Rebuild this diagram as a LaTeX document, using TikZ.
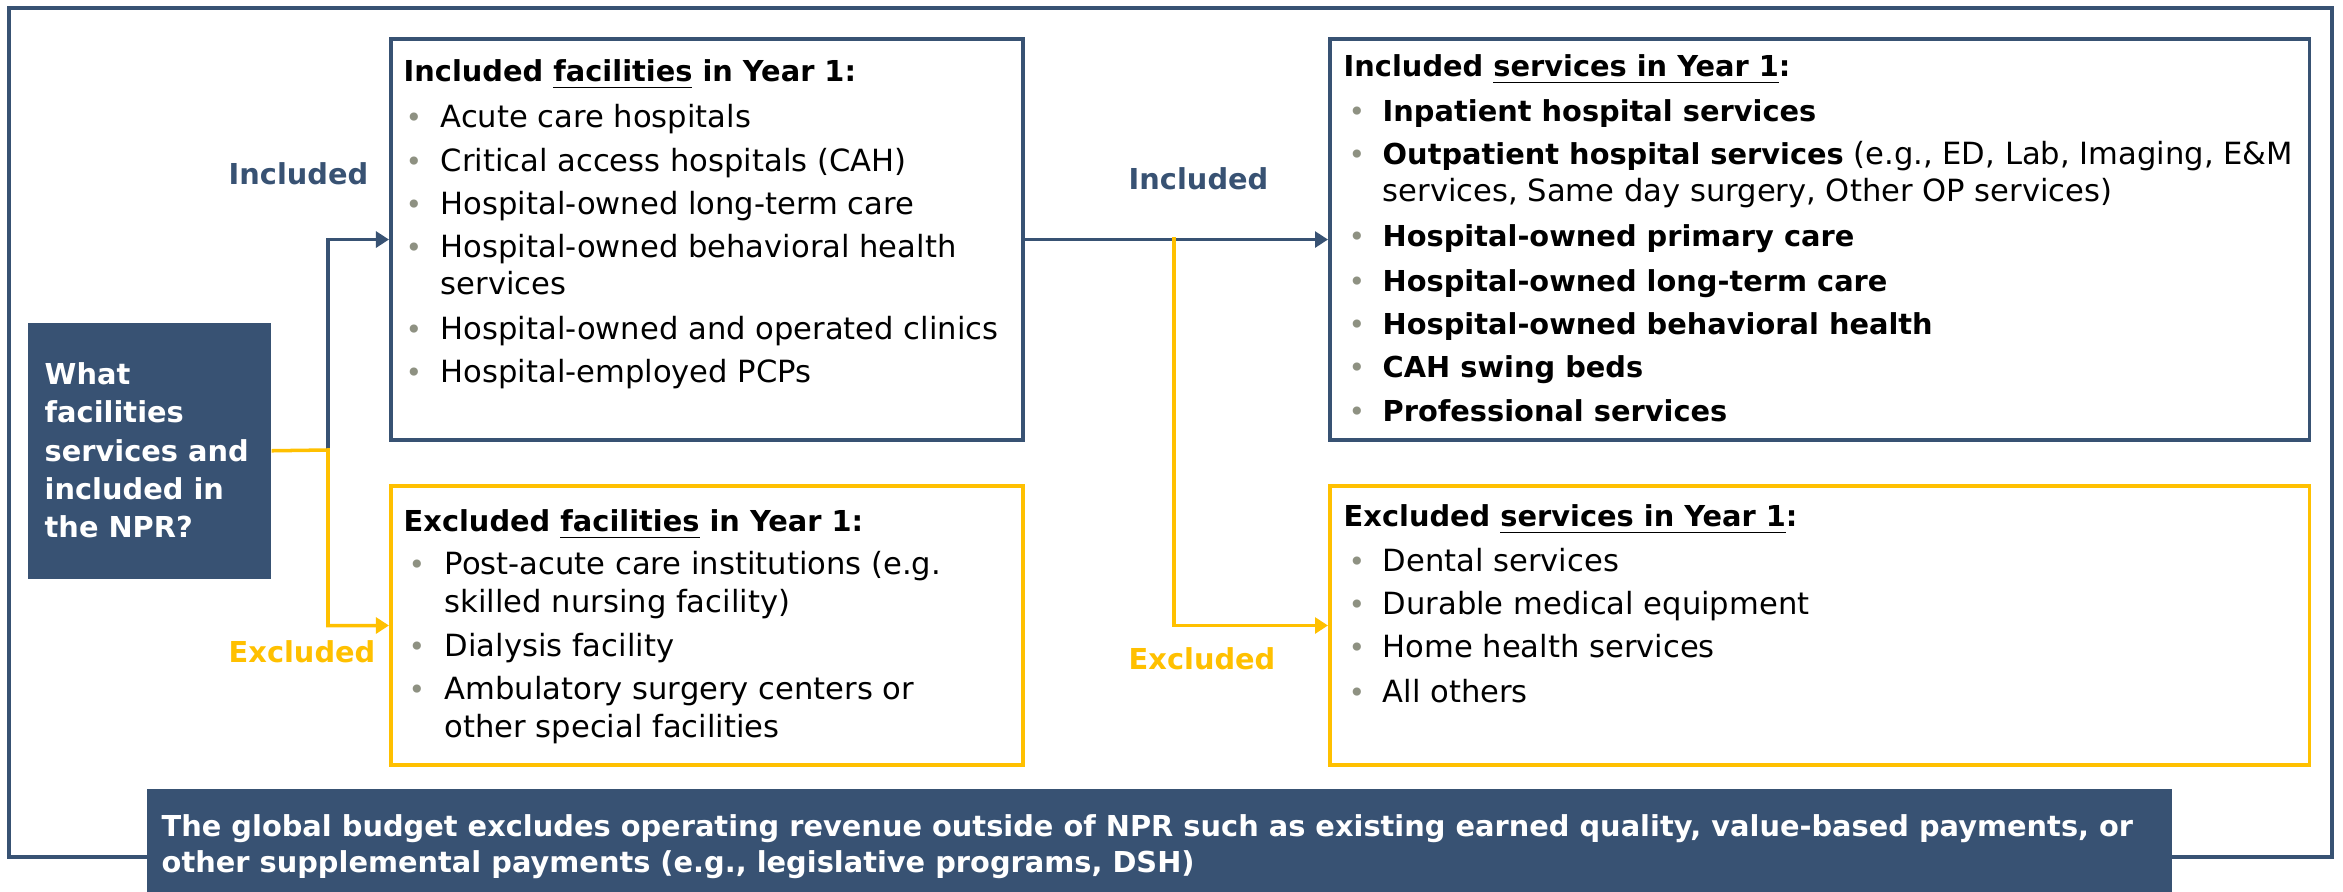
\documentclass[tikz,border=0pt]{standalone}
\usepackage{fontspec}
\setmainfont{DejaVu Sans}
\usetikzlibrary{arrows.meta}
\definecolor{hnavy}{HTML}{385273}
\definecolor{hgold}{HTML}{FFC000}
\definecolor{bulgray}{HTML}{8E9182}
\newcommand{\regfont}{\fontsize{8.7}{10.4}\selectfont}
\newcommand{\bldfont}{\fontsize{8.2}{10.4}\selectfont\bfseries}

\begin{document}
\begin{tikzpicture}[x=0.01cm,y=-0.01cm,
  itm/.style={anchor=base west,inner sep=0pt,font=\regfont},
  itb/.style={anchor=base west,inner sep=0pt,font=\bldfont},
  bul/.style={anchor=base west,inner sep=0pt,bulgray,font=\fontsize{8}{9}\selectfont},
  navybox/.style={draw=hnavy,line width=1.1pt,anchor=north west,inner sep=0pt},
  goldbox/.style={draw=hgold,line width=1.1pt,anchor=north west,inner sep=0pt},
  navyline/.style={hnavy,line width=1pt,-{Triangle[length=3.7pt,width=4.5pt]}},
  goldline/.style={hgold,line width=1pt,-{Triangle[length=3.7pt,width=4.5pt]}}]

\useasboundingbox (0,0) rectangle (2343,892);

% === outer frame ===
\draw[hnavy,line width=1pt] (9,8) rectangle (2332,857);

% === question box ===
\node[fill=hnavy,anchor=north west,minimum width=2.43cm,minimum height=2.56cm,inner sep=0pt] (q) at (27,322) {};
\node[itb,white] (q1) at (44,385) {What};
\node[itb,white] (q2) at (44,423) {facilities};
\node[itb,white] (q3) at (44,462) {services and};
\node[itb,white] (q4) at (44,500) {included in};
\node[itb,white] (q5) at (44,538) {the NPR?};

% === the four boxes ===
\node[navybox,minimum width=6.32cm,minimum height=4.01cm] (incfac) at (389,37) {};
\node[goldbox,minimum width=6.32cm,minimum height=2.79cm] (excfac) at (389,484) {};
\node[navybox,minimum width=9.79cm,minimum height=4.01cm] (incsrv) at (1328,37) {};
\node[goldbox,minimum width=9.79cm,minimum height=2.79cm] (excsrv) at (1328,484) {};

% === connectors ===
\coordinate (split) at (328,450);
\coordinate (split2) at (1174,237.5);
\draw[navyline] (split) |- (incfac.west);
\draw[goldline] (q.east) -- (split) |- (excfac.west);
\draw[navyline] (incfac.east) -- (incsrv.west);
\draw[goldline] (split2) |- (excsrv.west);

% branch labels
\node[itb,hnavy] (lblinc) at (228,185) {Included};
\node[itb,hgold] (lblexc) at (228,663) {Excluded};
\node[itb,hnavy] (lblinc2) at (1128,190) {Included};
\node[itb,hgold] (lblexc2) at (1128,670) {Excluded};

% === included facilities ===
\node[itb] (ift) at (403,82) {Included \underline{facilities} in Year 1:};
\node[bul] (ifb1) at (405,128) {\textbullet};
\node[itm] (if1) at (440,128) {Acute care hospitals};
\node[bul] (ifb2) at (405,172) {\textbullet};
\node[itm] (if2) at (440,172) {Critical access hospitals (CAH)};
\node[bul] (ifb3) at (405,215) {\textbullet};
\node[itm] (if3) at (440,215) {Hospital-owned long-term care};
\node[bul] (ifb4) at (405,258) {\textbullet};
\node[itm] (if4) at (440,258) {Hospital-owned behavioral health};
\node[itm] (if4b) at (440,295) {services};
\node[bul] (ifb5) at (405,340) {\textbullet};
\node[itm] (if5) at (440,340) {Hospital-owned and operated clinics};
\node[bul] (ifb6) at (405,383) {\textbullet};
\node[itm] (if6) at (440,383) {Hospital-employed PCPs};

% === excluded facilities ===
\node[itb] (eft) at (403,532) {Excluded \underline{facilities} in Year 1:};
\node[bul] (efb1) at (408,575) {\textbullet};
\node[itm] (ef1) at (444,575) {Post-acute care institutions (e.g.};
\node[itm] (ef1b) at (444,613) {skilled nursing facility)};
\node[bul] (efb2) at (408,657) {\textbullet};
\node[itm] (ef2) at (444,657) {Dialysis facility};
\node[bul] (efb3) at (408,700) {\textbullet};
\node[itm] (ef3) at (444,700) {Ambulatory surgery centers or};
\node[itm] (ef3b) at (444,738) {other special facilities};

% === included services ===
\node[itb] (ist) at (1343,77) {Included \underline{services in Year 1}:};
\node[bul] (isb1) at (1348,122) {\textbullet};
\node[itb] (is1) at (1382,122) {Inpatient hospital services};
\node[bul] (isb2) at (1348,165) {\textbullet};
\node[itm] (is2) at (1382,165) {{\bldfont Outpatient hospital services} (e.g., ED, Lab, Imaging, E\&M};
\node[itm] (is2b) at (1382,202) {services, Same day surgery, Other OP services)};
\node[bul] (isb3) at (1348,247) {\textbullet};
\node[itb] (is3) at (1382,247) {Hospital-owned primary care};
\node[bul] (isb4) at (1348,292) {\textbullet};
\node[itb] (is4) at (1382,292) {Hospital-owned long-term care};
\node[bul] (isb5) at (1348,335) {\textbullet};
\node[itb] (is5) at (1382,335) {Hospital-owned behavioral health};
\node[bul] (isb6) at (1348,378) {\textbullet};
\node[itb] (is6) at (1382,378) {CAH swing beds};
\node[bul] (isb7) at (1348,422) {\textbullet};
\node[itb] (is7) at (1382,422) {Professional services};

% === excluded services ===
\node[itb] (est) at (1343,527) {Excluded \underline{services in Year 1}:};
\node[bul] (esb1) at (1348,572) {\textbullet};
\node[itm] (es1) at (1382,572) {Dental services};
\node[bul] (esb2) at (1348,615) {\textbullet};
\node[itm] (es2) at (1382,615) {Durable medical equipment};
\node[bul] (esb3) at (1348,658) {\textbullet};
\node[itm] (es3) at (1382,658) {Home health services};
\node[bul] (esb4) at (1348,703) {\textbullet};
\node[itm] (es4) at (1382,703) {All others};

% === bottom note ===
\node[fill=hnavy,anchor=north west,minimum width=20.24cm,minimum height=1.04cm,inner sep=0pt] (note) at (146,788) {};
\node[itb,white] (note1) at (161,837) {The global budget excludes operating revenue outside of NPR such as existing earned quality, value-based payments, or};
\node[itb,white] (note2) at (161,873) {other supplemental payments (e.g., legislative programs, DSH)};

\end{tikzpicture}
\end{document}
